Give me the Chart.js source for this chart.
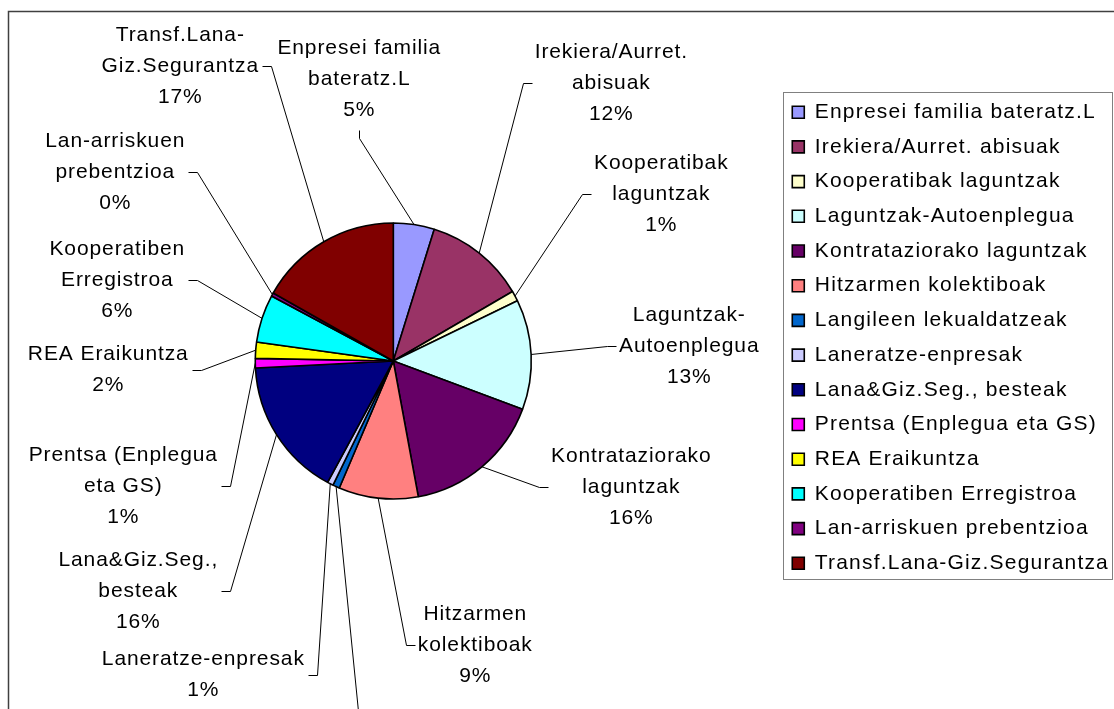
<!DOCTYPE html>
<html>
<head>
<meta charset="utf-8">
<script src="https://cdn.jsdelivr.net/npm/chart.js@4.4.0/dist/chart.umd.min.js"></script>
<style>
    html, body { margin: 0; padding: 0; background: #ffffff; overflow: hidden; }
    #wrap { width: 1114px; height: 709px; position: relative; }
</style>
</head>
<body>
<div id="wrap"><canvas id="pieChart" width="1114" height="709"></canvas></div>
<script>
// categories (legend order, clockwise from 12 o'clock)
var categories = [
    'Enpresei familia bateratz.L',
    'Irekiera/Aurret. abisuak',
    'Kooperatibak laguntzak',
    'Laguntzak-Autoenplegua',
    'Kontrataziorako laguntzak',
    'Hitzarmen kolektiboak',
    'Langileen lekualdatzeak',
    'Laneratze-enpresak',
    'Lana&Giz.Seg., besteak',
    'Prentsa (Enplegua eta GS)',
    'REA Eraikuntza',
    'Kooperatiben Erregistroa',
    'Lan-arriskuen prebentzioa',
    'Transf.Lana-Giz.Segurantza'
];

// label text as it is wrapped next to the pie
var labelLines = [
    ['Enpresei familia', 'bateratz.L'],
    ['Irekiera/Aurret.', 'abisuak'],
    ['Kooperatibak', 'laguntzak'],
    ['Laguntzak-', 'Autoenplegua'],
    ['Kontrataziorako', 'laguntzak'],
    ['Hitzarmen', 'kolektiboak'],
    ['Langileen', 'lekualdatzeak'],
    ['Laneratze-enpresak'],
    ['Lana&Giz.Seg.,', 'besteak'],
    ['Prentsa (Enplegua', 'eta GS)'],
    ['REA Eraikuntza'],
    ['Kooperatiben', 'Erregistroa'],
    ['Lan-arriskuen', 'prebentzioa'],
    ['Transf.Lana-', 'Giz.Segurantza']
];

// shares (%)
var shares = [4.8, 11.8, 1.2, 12.9, 16.4, 9.3, 0.8, 0.7, 16.3, 1.1, 1.9, 5.6, 0.4, 16.8];

var sliceColors = [
    '#9999ff', '#993366', '#ffffcc', '#ccffff', '#660066', '#ff8080', '#0066cc',
    '#ccccff', '#000080', '#ff00ff', '#ffff00', '#00ffff', '#800080', '#800000'
];

// where each label block sits, relative to the pie centre, and which side the leader leaves from
var labelSpots = [
    { dx: -34, dy: -282, side: 'B' },
    { dx: 218, dy: -278, side: 'L' },
    { dx: 268, dy: -167, side: 'L' },
    { dx: 296, dy: -15, side: 'L' },
    { dx: 238, dy: 126, side: 'L' },
    { dx: 82, dy: 284, side: 'L' },
    { dx: -35, dy: 410, side: 'T' },
    { dx: -190, dy: 314, side: 'R' },
    { dx: -255, dy: 230, side: 'R' },
    { dx: -270, dy: 125, side: 'R' },
    { dx: -285, dy: 9, side: 'R' },
    { dx: -276, dy: -81, side: 'R' },
    { dx: -278, dy: -189, side: 'R' },
    { dx: -213, dy: -295, side: 'R' }
];

var FONT = '"Liberation Sans", Arial, sans-serif';

function setSpacing(chart, px) {
    chart.ctx.letterSpacing = px;
}

var spacingPlugin = {
    id: 'spacing',
    beforeLayout: function(chart) { setSpacing(chart, '1.2px'); },
    beforeDraw: function(chart) { setSpacing(chart, '1.2px'); }
};

var framePlugin = {
    id: 'frame',
    afterDraw: function(chart) {
        var ctx = chart.ctx;
        var lg = chart.legend;
        var boxes = lg.legendHitBoxes;
        var first = boxes[0], last = boxes[boxes.length - 1];
        ctx.save();
        // outer chart frame (runs off the right and bottom of the picture)
        ctx.strokeStyle = '#404040';
        ctx.lineWidth = 1.5;
        ctx.beginPath();
        ctx.moveTo(1120, 11.5);
        ctx.lineTo(8.5, 11.5);
        ctx.lineTo(8.5, 720);
        ctx.stroke();
        // legend border
        ctx.strokeStyle = '#808080';
        ctx.lineWidth = 1;
        var x0 = Math.round(first.left - 9) + 0.5;
        var y0 = Math.round(first.top - 10) + 0.5;
        var x1 = 1112.5;
        var y1 = Math.round(last.top + last.height + 5) + 0.5;
        ctx.strokeRect(x0, y0, x1 - x0, y1 - y0);
        ctx.restore();
    }
};

var pieLabelPlugin = {
    id: 'pieLabels',
    afterDatasetsDraw: function(chart) {
        var ctx = chart.ctx;
        var meta = chart.getDatasetMeta(0);
        var data = chart.data.datasets[0].data;
        var total = data.reduce(function(a, b) { return a + b; }, 0);
        var lineH = 31;

        ctx.save();
        ctx.letterSpacing = '0.9px';
        ctx.font = '21px ' + FONT;
        ctx.fillStyle = '#000000';
        ctx.textAlign = 'center';
        ctx.textBaseline = 'middle';
        ctx.strokeStyle = '#000000';
        ctx.lineWidth = 1;

        meta.data.forEach(function(arc, i) {
            var p = arc.getProps(['x', 'y', 'startAngle', 'endAngle', 'outerRadius'], true);
            var mid = (p.startAngle + p.endAngle) / 2;
            var ex = p.x + Math.cos(mid) * p.outerRadius;
            var ey = p.y + Math.sin(mid) * p.outerRadius;

            var spot = labelSpots[i];
            var cx = p.x + spot.dx;
            var cy = p.y + spot.dy;
            var lines = labelLines[i].concat([Math.round(data[i] / total * 100) + '%']);
            var w = 0;
            lines.forEach(function(t) { w = Math.max(w, ctx.measureText(t).width); });
            var h = lines.length * lineH;

            lines.forEach(function(t, k) {
                ctx.fillText(t, cx, cy - h / 2 + lineH * (k + 0.5));
            });

            // leader line: short tick next to the label, then on to the slice edge
            var ax, ay, tx, ty;
            if (spot.side === 'R') {
                ax = cx + w / 2 + 3; ay = cy; tx = ax + 9; ty = ay;
            } else if (spot.side === 'L') {
                ax = cx - w / 2 - 3; ay = cy; tx = ax - 9; ty = ay;
            } else if (spot.side === 'B') {
                ax = cx; ay = cy + h / 2 + 4; tx = ax; ty = ay + 8;
            } else {
                ax = cx; ay = cy - h / 2 - 6; tx = ax; ty = ay - 8;
            }
            ctx.beginPath();
            ctx.moveTo(Math.round(ax) + 0.5, Math.round(ay) + 0.5);
            ctx.lineTo(Math.round(tx) + 0.5, Math.round(ty) + 0.5);
            ctx.lineTo(ex, ey);
            ctx.stroke();
        });
        ctx.restore();
    }
};

var ctx = document.getElementById('pieChart').getContext('2d');
var pieChart = new Chart(ctx, {
    type: 'pie',
    data: {
        labels: categories,
        datasets: [{
            data: shares,
            backgroundColor: sliceColors,
            borderColor: '#000000',
            borderWidth: 1.6
        }]
    },
    options: {
        responsive: false,
        animation: false,
        radius: 138,
        layout: {
            padding: { left: 8, right: -5, top: 88, bottom: 75 }
        },
        plugins: {
            legend: {
                position: 'right',
                align: 'start',
                labels: {
                    boxWidth: 12,
                    boxHeight: 12,
                    padding: 13.7,
                    color: '#000000',
                    font: { family: FONT, size: 21, lineHeight: 1.18 }
                }
            },
            tooltip: { enabled: false }
        }
    },
    plugins: [spacingPlugin, pieLabelPlugin, framePlugin]
});
</script>
</body>
</html>
